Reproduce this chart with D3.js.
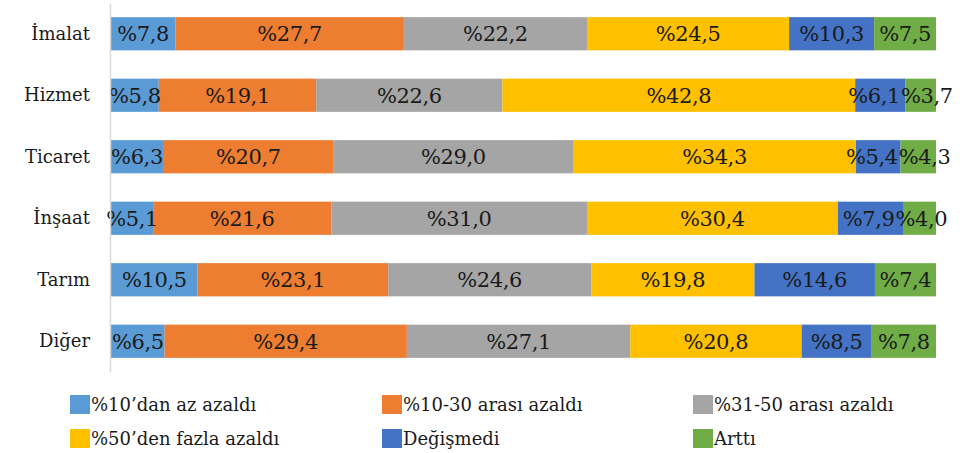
<!DOCTYPE html>
<html><head><meta charset="utf-8">
<script src="https://cdn.jsdelivr.net/npm/d3@7"></script>
<style>body{margin:0;background:#fff}svg{display:block}</style>
</head><body><svg id="c" width="969" height="453"></svg>
<script>
const categories = ["İmalat","Hizmet","Ticaret","İnşaat","Tarım","Diğer"];
const seriesNames = ["%10’dan az azaldı","%10-30 arası azaldı","%31-50 arası azaldı","%50’den fazla azaldı","Değişmedi","Arttı"];
const seriesColors = ["#5B9BD5","#ED7D31","#A5A5A5","#FFC000","#4472C4","#70AD47"];
const s1 = [7.8,5.8,6.3,5.1,10.5,6.5];
const s2 = [27.7,19.1,20.7,21.6,23.1,29.4];
const s3 = [22.2,22.6,29.0,31.0,24.6,27.1];
const s4 = [24.5,42.8,34.3,30.4,19.8,20.8];
const s5 = [10.3,6.1,5.4,7.9,14.6,8.5];
const s6 = [7.5,3.7,4.3,4.0,7.4,7.8];
const seriesVals = [s1,s2,s3,s4,s5,s6];
const FONT = "DejaVu Serif";

const svg = d3.select("#c").attr("font-family",FONT);
const x = d3.scaleLinear().domain([0,1]).range([111,936]);
const y = d3.scaleBand().domain(categories).range([3,372]).paddingInner(0.46).paddingOuter(0.23);

const rows = categories.map((c,i)=>{
  const obj={cat:c};
  seriesVals.forEach((s,j)=>obj["s"+j]=s[i]);
  return obj;
});
const keys = seriesVals.map((_,j)=>"s"+j);
const stack = d3.stack().keys(keys).offset(d3.stackOffsetExpand)(rows);

stack.forEach((layer,j)=>{
  svg.append("g").selectAll("rect").data(layer).join("rect")
    .attr("x",d=>x(d[0])).attr("width",d=>x(d[1])-x(d[0]))
    .attr("y",d=>y(d.data.cat)).attr("height",y.bandwidth())
    .attr("fill",seriesColors[j]);
});
const labelsByRow = categories.map(()=>[]);
stack.forEach((layer,j)=>{
  svg.append("g").selectAll("text").data(layer).join("text")
    .attr("x",d=>(x(d[0])+x(d[1]))/2)
    .attr("y",d=>y(d.data.cat)+y.bandwidth()/2)
    .attr("dy","0.35em").attr("text-anchor","middle")
    .attr("font-family",FONT).attr("font-size",21).attr("letter-spacing",-0.4).attr("fill","#1a1a1a")
    .text(d=>"%"+d3.format(".1f")(d.data["s"+j]).replace(".",","))
    .each(function(d,i){ labelsByRow[i][j]=this; });
});
// push apart labels that collide within a row
labelsByRow.forEach(labs=>{
  const items = labs.map(el=>({el, cx:+el.getAttribute("x"), w:el.getComputedTextLength()}));
  for(let it=0; it<20; it++){
    for(let k=0;k<items.length-1;k++){
      const a=items[k], b=items[k+1];
      const ov = (a.cx+a.w/2+1) - (b.cx-b.w/2);
      if(ov>0){ a.cx-=ov/2; b.cx+=ov/2; }
    }
  }
  items.forEach(o=>o.el.setAttribute("x",o.cx));
});

const ax = svg.append("g").attr("transform","translate(110,0)")
  .call(d3.axisLeft(y).tickSize(0).tickPadding(20));
ax.attr("font-family",FONT);
ax.select(".domain").attr("stroke","#d9d9d9").attr("stroke-width",1.5);
ax.selectAll("text").attr("font-size",18).attr("fill","#1a1a1a");

const legX=[70,382,693], legY=[395,429];
const lg = svg.append("g");
seriesNames.forEach((n,i)=>{
  const gx=legX[i%3], gy=legY[Math.floor(i/3)];
  lg.append("rect").attr("x",gx).attr("y",gy).attr("width",20).attr("height",19).attr("fill",seriesColors[i]);
  lg.append("text").attr("x",gx+21).attr("y",gy+16)
    .attr("font-family",FONT).attr("font-size",18).attr("fill","#1a1a1a").text(n);
});
</script></body></html>
